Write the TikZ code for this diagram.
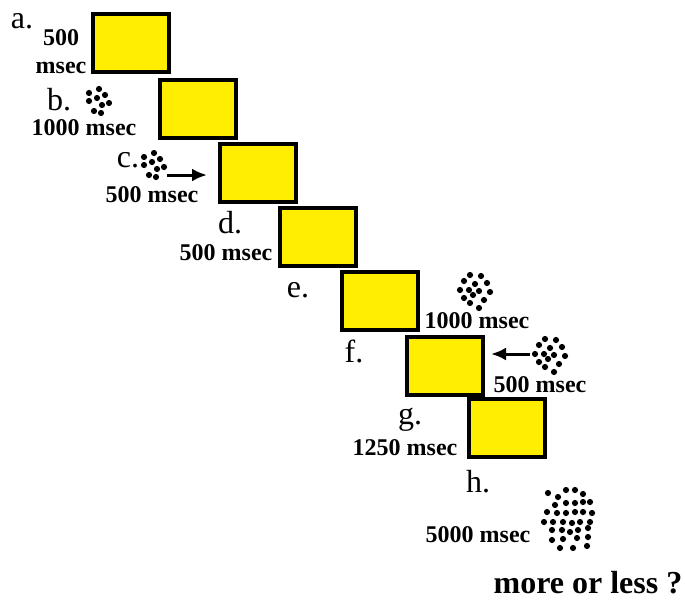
\documentclass[tikz,border=0pt]{standalone}
\usepackage{fontspec}
\setmainfont{Liberation Serif}
\usetikzlibrary{arrows.meta}
\definecolor{boxyellow}{RGB}{255,238,0}
\tikzset{
  stepbox/.style={rectangle, draw=black, line width=4.5pt, fill=boxyellow, minimum width=76pt, minimum height=58pt, inner sep=0pt},
  lett/.style={font=\fontsize{32}{32}\selectfont, inner sep=0pt, anchor=base},
  dur/.style={font=\bfseries\fontsize{24}{24}\selectfont, inner sep=0pt, anchor=base},
  big/.style={font=\bfseries\fontsize{32}{32}\selectfont, inner sep=0pt, anchor=base},
  arr/.style={line width=3pt, -{Latex[length=15pt,width=13pt]}},
  dot/.style={fill=black}
}
\begin{document}
\begin{tikzpicture}[x=1pt,y=-1pt]
\useasboundingbox (0,0) rectangle (685,600);
% boxes
\node[stepbox] (ba) at (131,43) {};
\node[stepbox] (bb) at (198,109) {};
\node[stepbox] (bc) at (258,173) {};
\node[stepbox] (bd) at (318,237) {};
\node[stepbox] (be) at (380,301) {};
\node[stepbox] (bf) at (445,366) {};
\node[stepbox] (bg) at (507,428) {};
% letters
\node[lett] (la) at (22,28) {a.};
\node[lett] (lb) at (59,110) {b.};
\node[lett] (lc) at (128,167) {c.};
\node[lett] (ld) at (230,233) {d.};
\node[lett] (le) at (298,297) {e.};
\node[lett] (lf) at (354,362) {f.};
\node[lett] (lg) at (410,424) {g.};
\node[lett] (lh) at (478,492) {h.};
% durations
\node[dur] (ta1) at (61,45) {500};
\node[dur] (ta2) at (61,73) {msec};
\node[dur] (tb) at (84,135) {1000 msec};
\node[dur] (tc) at (152,202) {500 msec};
\node[dur] (td) at (226,260) {500 msec};
\node[dur] (te) at (477,328) {1000 msec};
\node[dur] (tf) at (540,392) {500 msec};
\node[dur] (tg) at (405,455) {1250 msec};
\node[dur] (th) at (478,542) {5000 msec};
\node[big] (q) at (588,593) {more or less ?};
% dot clusters
\foreach \x/\y in {89/93,99/89,105/95,89/101,97/98,109/103,102/105,94/111,101/113}
  \fill[dot] (\x,\y) circle (3.1pt);
\begin{scope}[shift={(55,64)}]
\foreach \x/\y in {89/93,99/89,105/95,89/101,97/98,109/103,102/105,94/111,101/113}
  \fill[dot] (\x,\y) circle (3.1pt);
\end{scope}
\foreach \x/\y in {-5/-16,6/-15,-11/-10,0/-7,12/-8,-15/-1,-6/-1,4/0,15/1,-11/7,-2/4,9/9,-5/12,4/17}
  \fill[dot] (475+\x,291+\y) circle (3.1pt);
\foreach \x/\y in {-5/-16,6/-15,-11/-10,0/-7,12/-8,-15/-1,-6/-1,4/0,15/1,-11/7,-2/4,9/9,-5/12,4/17}
  \fill[dot] (550+\x,355+\y) circle (3.1pt);
\foreach \x/\y in {548/493,558/497,566/490,575/490,583/494,555/505,566/503,575/503,583/502,590/502,547/512,557/513,566/513,575/512,583/512,592/513,544/522,553/522,563/522,572/523,580/522,590/522,552/530,562/530,570/532,578/530,588/528,552/540,563/539,577/538,588/537,560/548,573/548,587/546}
  \fill[dot] (\x,\y) circle (3.1pt);
% arrows
\coordinate (cfrom) at (167,175);
\coordinate (cto) at (207,175);
\draw[arr] (cfrom) -- (cto);
\coordinate (ffrom) at (530,354);
\coordinate (fto) at (491,354);
\draw[arr] (ffrom) -- (fto);
\end{tikzpicture}
\end{document}
